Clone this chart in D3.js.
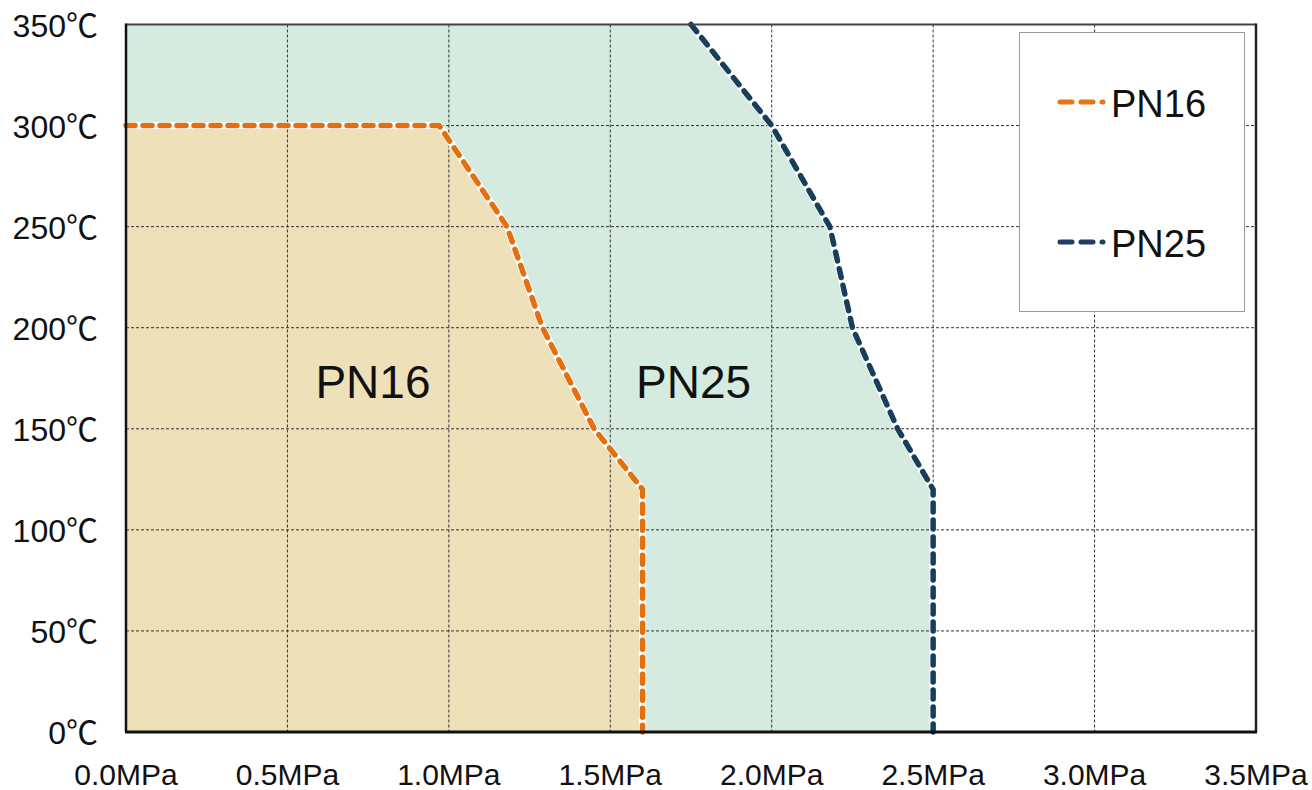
<!DOCTYPE html>
<html>
<head>
<meta charset="utf-8">
<script src="https://cdn.jsdelivr.net/npm/d3@7"></script>
<style>
  body { margin: 0; background: white; }
  text { font-family: 'Liberation Sans', Arial, 'Noto Sans CJK JP', sans-serif; fill: #111; }
</style>
</head>
<body>
<div id="vis"></div>
<script>
// chart data
let seriesNames = ['PN16', 'PN25'];
let pn16Pressure = [0, 0.97, 1.18, 1.29, 1.45, 1.5, 1.6, 1.6];
let pn16Temp = [300, 300, 250, 200, 150, 140, 120, 0];
let pn25Pressure = [1.75, 2.0, 2.18, 2.25, 2.39, 2.5, 2.5];
let pn25Temp = [350, 300, 250, 200, 150, 120, 0];
let xTicks = [0, 0.5, 1.0, 1.5, 2.0, 2.5, 3.0, 3.5];
let yTicks = [0, 50, 100, 150, 200, 250, 300, 350];

let width = 1312,
  height = 790;

let svg = d3
  .select('#vis')
  .append('svg')
  .attr('width', width)
  .attr('height', height)
  .style('display', 'block');

let x = d3.scaleLinear().domain([0, 3.5]).range([126, 1256]);
let y = d3.scaleLinear().domain([0, 350]).range([732, 24.5]);

let pn16 = pn16Pressure.map((p, i) => [p, pn16Temp[i]]);
let pn25 = pn25Pressure.map((p, i) => [p, pn25Temp[i]]);

let line = d3
  .line()
  .x((d) => x(d[0]))
  .y((d) => y(d[1]));

// filled areas (closed to the axes)
svg
  .append('path')
  .attr('d', line([[0, 0], [0, 350]].concat(pn25)) + 'Z')
  .attr('fill', '#d5ebdf');

svg
  .append('path')
  .attr('d', line([[0, 0]].concat(pn16)) + 'Z')
  .attr('fill', '#eee0b8');

// grid
svg
  .append('g')
  .selectAll('line')
  .data(xTicks.slice(1, -1))
  .join('line')
  .attr('x1', (d) => x(d))
  .attr('x2', (d) => x(d))
  .attr('y1', y(350))
  .attr('y2', y(0))
  .attr('stroke', '#333')
  .attr('stroke-width', 1)
  .attr('stroke-dasharray', '3,2');

svg
  .append('g')
  .selectAll('line')
  .data(yTicks.slice(1, -1))
  .join('line')
  .attr('x1', x(0))
  .attr('x2', x(3.5))
  .attr('y1', (d) => y(d))
  .attr('y2', (d) => y(d))
  .attr('stroke', '#333')
  .attr('stroke-width', 1)
  .attr('stroke-dasharray', '3,2');

// series lines: white under-stroke then dashed colour
let colors = ['#e07010', '#173f5c'];
[pn16, pn25].forEach((data, i) => {
  svg
    .append('path')
    .attr('d', line(data))
    .attr('fill', 'none')
    .attr('stroke', 'white')
    .attr('stroke-width', 7)
    .attr('stroke-linejoin', 'round');
  svg
    .append('path')
    .attr('d', line(data))
    .attr('fill', 'none')
    .attr('stroke', colors[i])
    .attr('stroke-width', 5.5)
    .attr('stroke-linejoin', 'round')
    .attr('stroke-linecap', 'round')
    .attr('stroke-dasharray', '9,8');
});

// frame
svg
  .append('line')
  .attr('x1', x(0))
  .attr('x2', x(3.5))
  .attr('y1', y(350))
  .attr('y2', y(350))
  .attr('stroke', '#444')
  .attr('stroke-width', 2);
svg
  .append('line')
  .attr('x1', x(3.5))
  .attr('x2', x(3.5))
  .attr('y1', y(350) - 1)
  .attr('y2', y(0))
  .attr('stroke', '#222')
  .attr('stroke-width', 2.5);
svg
  .append('line')
  .attr('x1', x(0))
  .attr('x2', x(0))
  .attr('y1', y(350) - 1)
  .attr('y2', y(0))
  .attr('stroke', '#111')
  .attr('stroke-width', 2.5);
svg
  .append('line')
  .attr('x1', x(0) - 1)
  .attr('x2', x(3.5) + 1)
  .attr('y1', y(0))
  .attr('y2', y(0))
  .attr('stroke', '#111')
  .attr('stroke-width', 3);

// axis labels
svg
  .append('g')
  .selectAll('text')
  .data(xTicks)
  .join('text')
  .attr('x', (d) => x(d))
  .attr('y', 785)
  .attr('text-anchor', 'middle')
  .attr('font-size', 30)
  .text((d) => d.toFixed(1) + 'MPa');

svg
  .append('g')
  .selectAll('text')
  .data(yTicks)
  .join('text')
  .attr('x', 98)
  .attr('y', (d) => y(d) + 12)
  .attr('text-anchor', 'end')
  .attr('font-size', 32)
  .text((d) => d + '℃');

// area labels
svg
  .append('text')
  .attr('x', x(0.765))
  .attr('y', 398)
  .attr('text-anchor', 'middle')
  .attr('font-size', 46)
  .text('PN16');
svg
  .append('text')
  .attr('x', x(1.758))
  .attr('y', 398)
  .attr('text-anchor', 'middle')
  .attr('font-size', 46)
  .text('PN25');

// legend
let legend = svg.append('g');
legend
  .append('rect')
  .attr('x', 1019.5)
  .attr('y', 32.5)
  .attr('width', 225)
  .attr('height', 279)
  .attr('fill', 'white')
  .attr('stroke', '#999')
  .attr('stroke-width', 1);

let legendY = [102, 242];
seriesNames.forEach((name, i) => {
  legend
    .append('line')
    .attr('x1', 1060)
    .attr('x2', 1106)
    .attr('y1', legendY[i])
    .attr('y2', legendY[i])
    .attr('stroke', i === 0 ? '#e87514' : '#1f3d66')
    .attr('stroke-width', 5)
    .attr('stroke-linecap', 'round')
    .attr('stroke-dasharray', '12,9,12,9,1,20');
  legend
    .append('text')
    .attr('x', 1111)
    .attr('y', legendY[i] + 15)
    .attr('font-size', 38)
    .text(name);
});
</script>
</body>
</html>
